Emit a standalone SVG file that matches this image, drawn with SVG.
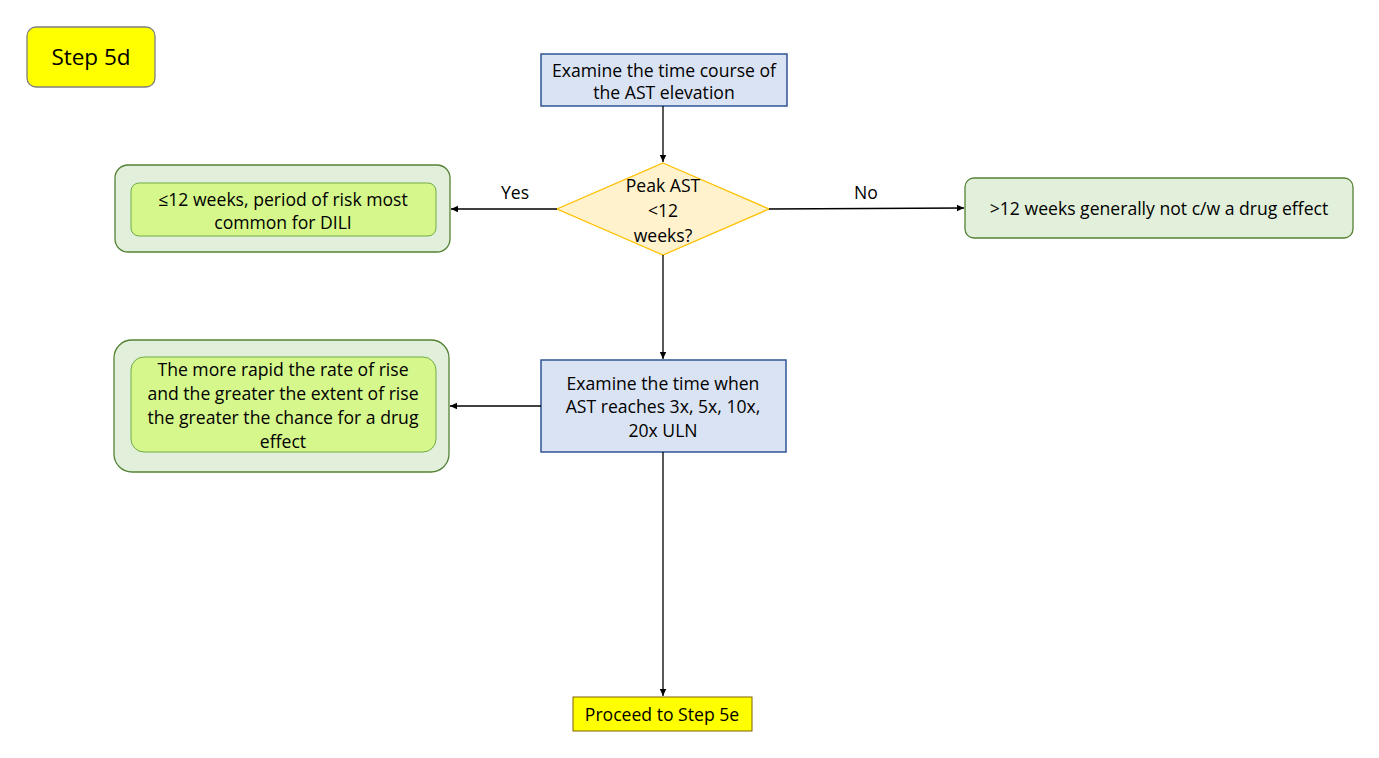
<svg xmlns="http://www.w3.org/2000/svg" width="1379" height="758" viewBox="0 0 1379 758">
<defs>
<marker id="ah" markerWidth="8" markerHeight="8" refX="7" refY="4" orient="auto" markerUnits="userSpaceOnUse">
<path d="M0,0.8 L7,4 L0,7.2 Z" fill="#000"/>
</marker>
<style>
text{font-family:"Open Sans","Liberation Sans",sans-serif;font-size:17.6px;fill:#000;text-anchor:middle}
.blue{fill:#dae3f3;stroke:#2f5597;stroke-width:1.5}
.outer{fill:#e2efda;stroke:#548235;stroke-width:1.3}
.inner{fill:#d5f78c;stroke:#70ad47;stroke-width:1}
.conn{stroke:#000;stroke-width:1.3;fill:none;marker-end:url(#ah)}
</style>
</defs>
<rect width="1379" height="758" fill="#fff"/>
<g id="step5d">
<rect x="27" y="27" width="128" height="60" rx="9" fill="#ffff00" stroke="#7f7f7f" stroke-width="1.3"/>
<text x="91" y="65" style="font-size:22.5px">Step 5d</text>
</g>
<g id="examine1">
<rect class="blue" x="541" y="54" width="246" height="52"/>
<text x="664" y="77">Examine the time course of</text>
<text x="664" y="99">the AST elevation</text>
</g>
<g id="decision">
<polygon points="663,163 769,209 663,255 557,209" fill="#fff2cc" stroke="#ffc000" stroke-width="1.3"/>
<text x="663" y="192">Peak AST</text>
<text x="663" y="217">&lt;12</text>
<text x="663" y="242">weeks?</text>
</g>
<g id="yesbox">
<rect class="outer" x="115" y="165" width="335" height="87" rx="13"/>
<rect class="inner" x="131" y="183" width="305" height="53" rx="8"/>
<text x="283" y="206">≤12 weeks, period of risk most</text>
<text x="283" y="229">common for DILI</text>
</g>
<g id="nobox">
<rect class="outer" x="965" y="178" width="388" height="60" rx="9"/>
<text x="1159" y="215">&gt;12 weeks generally not c/w a drug effect</text>
</g>
<g id="examine2">
<rect class="blue" x="541" y="360" width="245" height="92"/>
<text x="663" y="390">Examine the time when</text>
<text x="663" y="413">AST reaches 3x, 5x, 10x,</text>
<text x="663" y="437">20x ULN</text>
</g>
<g id="ratebox">
<rect class="outer" x="114" y="340" width="335" height="132" rx="18"/>
<rect class="inner" x="131" y="357" width="305" height="95" rx="13"/>
<text x="283" y="376">The more rapid the rate of rise</text>
<text x="283" y="400">and the greater the extent of rise</text>
<text x="283" y="424">the greater the chance for a drug</text>
<text x="283" y="448">effect</text>
</g>
<g id="proceed">
<rect x="573" y="697" width="179" height="34" fill="#ffff00" stroke="#7f6000" stroke-width="1"/>
<text x="662" y="721">Proceed to Step 5e</text>
</g>
<g id="connectors">
<line class="conn" x1="663" y1="106" x2="663" y2="162"/>
<line class="conn" x1="557" y1="209" x2="451" y2="209"/>
<line class="conn" x1="769" y1="209" x2="964" y2="208"/>
<line class="conn" x1="663" y1="255" x2="663" y2="359"/>
<line class="conn" x1="541" y1="406" x2="450" y2="406"/>
<line class="conn" x1="663" y1="452" x2="663" y2="696"/>
<text x="515" y="199">Yes</text>
<text x="866" y="199">No</text>
</g>
</svg>
